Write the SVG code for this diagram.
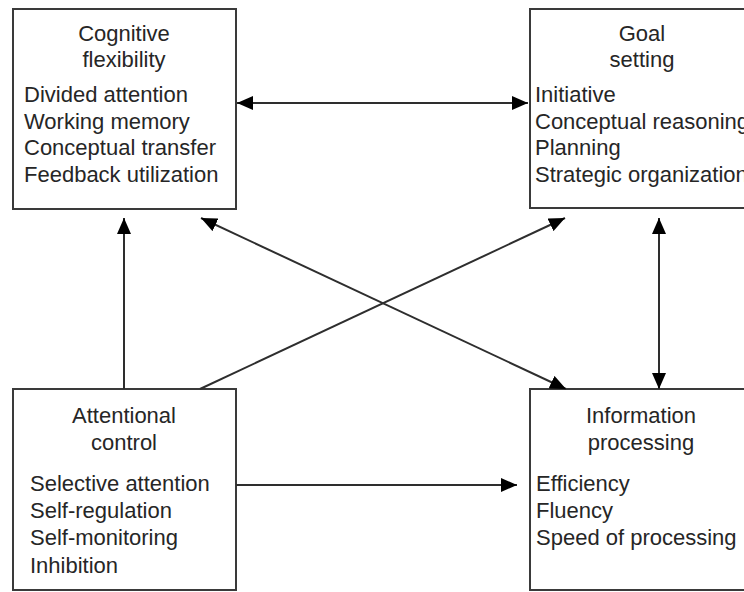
<svg xmlns="http://www.w3.org/2000/svg" width="744" height="592" viewBox="0 0 744 592">
<style>
  .box { fill: #ffffff; stroke: #3a3a3a; stroke-width: 2; }
  .t { font-family: "Liberation Sans", Arial, sans-serif; font-size: 22px; fill: #262626; }
  .c { text-anchor: middle; }
  .ln { stroke: #2e2e2e; stroke-width: 2; fill: none; }
</style>
<defs>
  <marker id="ah" viewBox="0 0 16 14" refX="16" refY="7" markerWidth="16" markerHeight="14" markerUnits="userSpaceOnUse" orient="auto-start-reverse">
    <path d="M0,0 L16,7 L0,14 z" fill="#000"/>
  </marker>
</defs>
<rect width="744" height="592" fill="#ffffff"/>

<g id="cognitive-flexibility">
  <rect class="box" x="13" y="9" width="223" height="200"/>
  <text class="t c" x="124" y="41">Cognitive</text>
  <text class="t c" x="124" y="67">flexibility</text>
  <text class="t" x="24" y="102">Divided attention</text>
  <text class="t" x="24" y="128.5">Working memory</text>
  <text class="t" x="24" y="155">Conceptual transfer</text>
  <text class="t" x="24" y="181.5">Feedback utilization</text>
</g>

<g id="goal-setting">
  <rect class="box" x="530" y="9" width="230" height="199"/>
  <text class="t c" x="642" y="41">Goal</text>
  <text class="t c" x="642" y="67">setting</text>
  <text class="t" x="535" y="102">Initiative</text>
  <text class="t" x="535" y="128.5">Conceptual reasoning</text>
  <text class="t" x="535" y="155">Planning</text>
  <text class="t" x="535" y="181.5">Strategic organization</text>
</g>

<g id="attentional-control">
  <rect class="box" x="13" y="389" width="223" height="201"/>
  <text class="t c" x="124" y="423">Attentional</text>
  <text class="t c" x="124" y="450">control</text>
  <text class="t" x="30" y="490.5">Selective attention</text>
  <text class="t" x="30" y="517.5">Self-regulation</text>
  <text class="t" x="30" y="545">Self-monitoring</text>
  <text class="t" x="30" y="572.5">Inhibition</text>
</g>

<g id="information-processing">
  <rect class="box" x="530" y="389" width="230" height="201"/>
  <text class="t c" x="641" y="423">Information</text>
  <text class="t c" x="641" y="450">processing</text>
  <text class="t" x="536" y="491">Efficiency</text>
  <text class="t" x="536" y="518">Fluency</text>
  <text class="t" x="536" y="545">Speed of processing</text>
</g>

<g id="connectors">
  <line class="ln" x1="237" y1="103" x2="528" y2="103" marker-start="url(#ah)" marker-end="url(#ah)"/>
  <line class="ln" x1="124" y1="389" x2="124" y2="218" marker-end="url(#ah)"/>
  <line class="ln" x1="200" y1="389" x2="565" y2="218" marker-end="url(#ah)"/>
  <line class="ln" x1="201" y1="218" x2="566" y2="389" marker-start="url(#ah)" marker-end="url(#ah)"/>
  <line class="ln" x1="659" y1="218" x2="659" y2="389" marker-start="url(#ah)" marker-end="url(#ah)"/>
  <line class="ln" x1="236" y1="485" x2="517" y2="485" marker-end="url(#ah)"/>
</g>
</svg>
